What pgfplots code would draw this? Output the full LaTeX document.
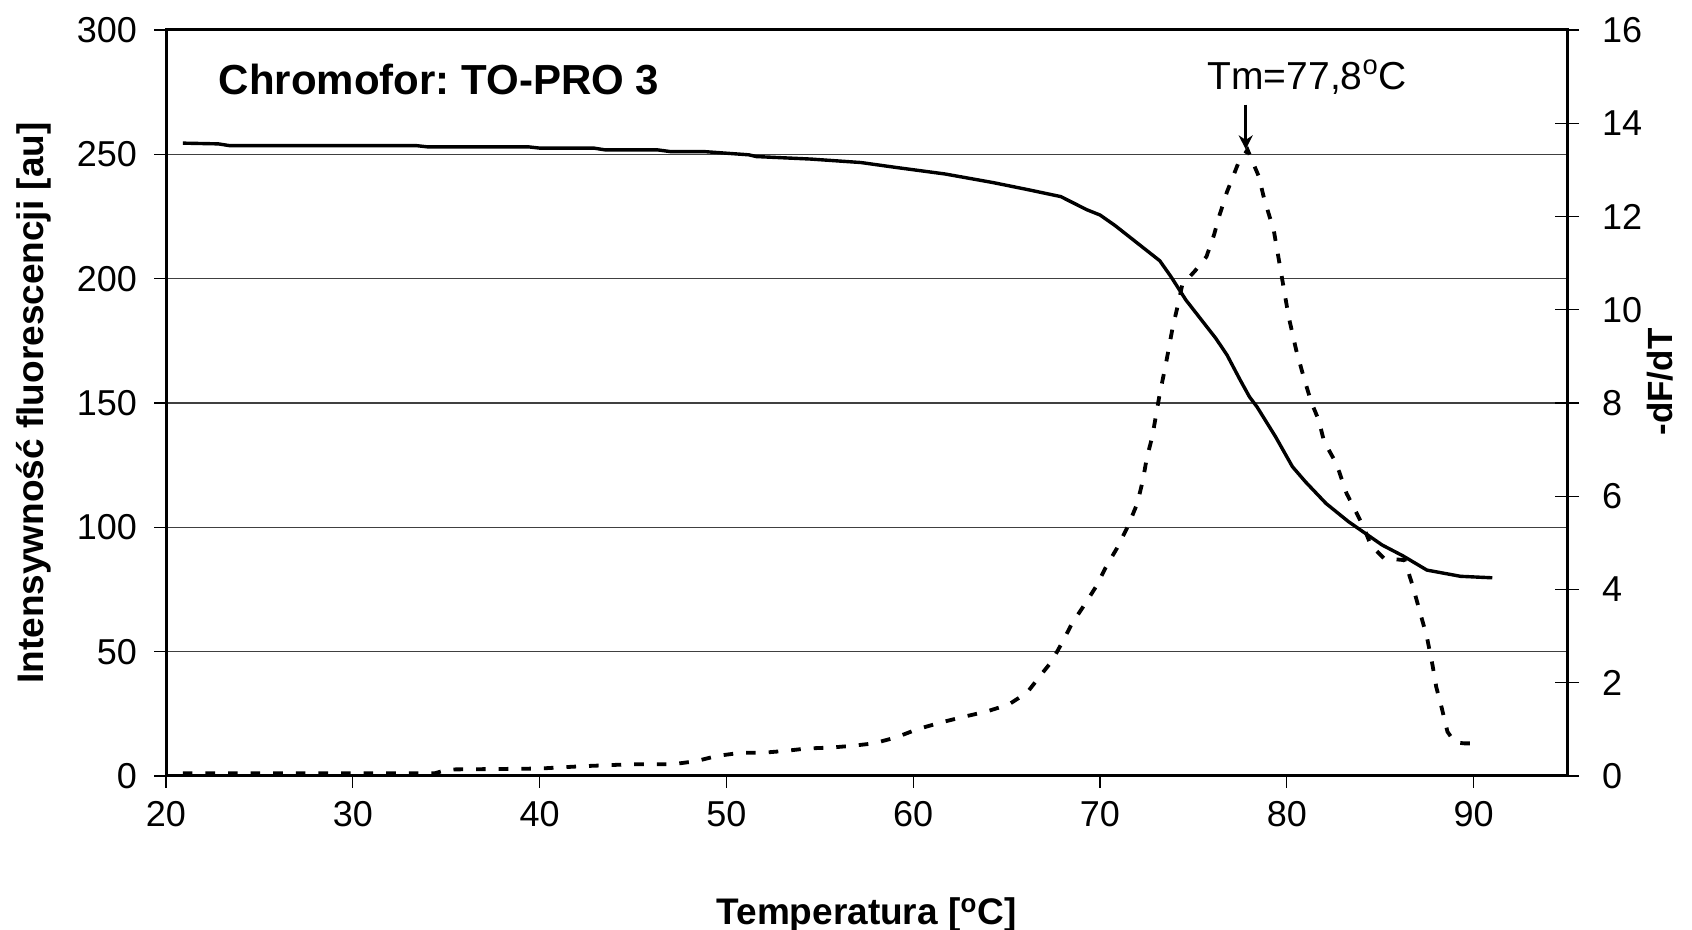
\documentclass[border=0pt]{standalone}
\usepackage{fontspec}
\setmainfont{Liberation Sans}
\usepackage{pgfplots}
\usepackage{pgfplotstable}
\pgfplotsset{compat=1.18}
\usetikzlibrary{arrows.meta}
\frenchspacing

% Fluorescence intensity during melting (left axis)
\pgfplotstableread{
T F
20.9 254.5
22.8 254.2
23.4 253.5
33.4 253.5
34.0 253.0
39.4 253.0
40.0 252.5
42.9 252.5
43.5 251.8
46.3 251.8
47.0 251.1
48.8 251.1
51.2 249.8
51.6 249.1
54.5 248.1
57.2 246.7
59.1 244.7
61.7 242.1
64.3 238.6
66.2 235.7
67.9 233.0
69.3 227.7
70.0 225.6
70.8 221.4
73.2 207.2
73.8 200.8
74.6 191.4
76.2 176.0
76.8 169.3
77.5 159.3
78.0 152.5
78.4 148.5
79.4 136.4
80.3 124.4
81.0 118.3
82.1 109.6
83.3 102.3
85.1 92.9
86.2 88.6
87.5 82.8
89.3 80.3
91.0 79.7
}\meltcurve

% First derivative -dF/dT (right axis)
\pgfplotstableread{
T D
20.9 0.06
22.0 0.06
24.0 0.06
26.0 0.06
28.0 0.06
30.0 0.06
32.0 0.06
34.4 0.06
35.1 0.14
37.8 0.15
40.0 0.16
42.3 0.21
44.8 0.25
47.1 0.25
48.4 0.32
49.5 0.43
50.8 0.50
52.0 0.50
53.2 0.54
54.3 0.59
55.6 0.61
56.8 0.65
57.9 0.70
59.1 0.83
60.2 1.00
61.5 1.15
62.6 1.26
63.9 1.38
65.1 1.53
66.1 1.79
66.9 2.20
67.4 2.45
68.0 2.88
68.5 3.27
69.2 3.69
69.8 4.07
70.3 4.47
70.9 4.88
71.5 5.36
72.0 5.85
72.3 6.35
72.5 6.81
72.8 7.28
73.2 8.20
73.5 8.78
73.7 9.21
73.9 9.64
74.2 10.15
74.4 10.53
75.1 10.84
75.7 11.14
76.1 11.60
76.4 12.03
76.8 12.53
77.4 13.14
77.9 13.43
78.5 12.86
78.8 12.36
79.3 11.71
79.7 10.78
80.1 9.85
80.5 9.14
80.9 8.56
81.3 8.03
81.7 7.64
82.0 7.17
82.6 6.74
82.8 6.53
83.2 6.06
83.7 5.67
84.1 5.35
84.5 4.95
85.2 4.67
86.3 4.63
86.7 4.13
87.1 3.56
87.5 2.98
87.8 2.38
88.0 1.91
88.3 1.45
88.6 0.95
89.0 0.72
89.5 0.70
90.2 0.70
}\derivcurve

\begin{document}
\begin{tikzpicture}
% page frame around the plot area (axis box has its lower left corner at the origin)
\useasboundingbox (-83pt,-77pt) rectangle (763pt,388pt);
\pgfplotsset{
  every axis/.append style={
    scale only axis,
    width=700.5pt, height=373pt,
    xmin=20, xmax=95,
    /pgf/number format/assume math mode=true,
    tick label style={font=\fontsize{18}{20}\selectfont},
    axis line style={line width=1.5pt},
    tick style={line width=0.6pt, black},
  },
}
\begin{axis}[
  at={(0,0)}, anchor=south west,
  ymin=0, ymax=300,
  xtick={20,30,...,90},
  ytick={0,50,...,300},
  xtick pos=lower, ytick pos=left,
  tick align=outside,
  major tick length=6pt,
  ymajorgrids,
  major grid style={line width=0.6pt, black!75},
  yticklabel style={xshift=-5pt},
  xticklabel style={yshift=-3pt},
  clip=false,
]
\addplot[black, line width=1.7pt, line join=round] table[x=T, y=F] {\meltcurve};

\node[anchor=base west, font=\bfseries\fontsize{21}{24}\selectfont]
  at (axis cs:22.45,273.9) {Chromofor: TO-PRO 3};
\node[anchor=base, font=\fontsize{19.5}{22}\selectfont]
  at (axis cs:81.1,276) {Tm=77,8\textsuperscript{o}C};
\draw[-{Stealth[length=7pt,width=7pt]}, line width=1.4pt]
  (axis cs:77.8,270) -- (axis cs:77.8,252);
\end{axis}

\begin{axis}[
  at={(0,0)}, anchor=south west,
  ymin=0, ymax=16,
  ytick={0,2,...,16},
  axis y line*=right,
  axis x line=none,
  tick align=center,
  major tick length=12pt,
  yticklabel style={xshift=8pt},
  clip=false,
]
\addplot[black, line width=1.9pt, dash pattern=on 4.8pt off 6.5pt] table[x=T, y=D] {\derivcurve};
\end{axis}

% axis titles
\node[anchor=base, font=\bfseries\fontsize{18.5}{22}\selectfont]
  at (350.25pt,-74.5pt) {Temperatura [\textsuperscript{o}C]};
\node[anchor=base, rotate=90, font=\bfseries\fontsize{18.5}{22}\selectfont]
  at (-61pt,186.5pt) {Intensywność fluorescencji [au]};
\node[anchor=base, rotate=90, font=\bfseries\fontsize{17.5}{20}\selectfont]
  at (753pt,197pt) {-dF/dT};
\end{tikzpicture}
\end{document}
